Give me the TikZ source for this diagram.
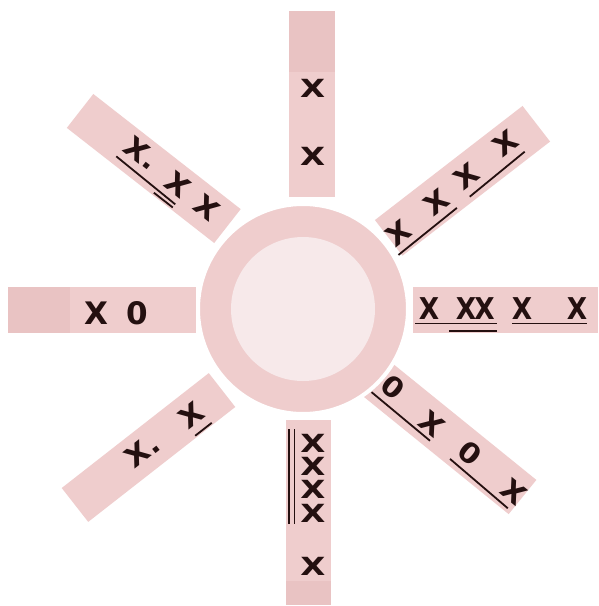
\documentclass[tikz,border=0pt]{standalone}
\usepackage{fontspec}
\newfontfamily\glyphfont{DejaVu Sans}
\definecolor{barpink}{RGB}{239,205,205}
\definecolor{barend}{RGB}{233,195,195}
\definecolor{innerpink}{RGB}{247,233,234}
\definecolor{ink}{RGB}{36,16,16}
\tikzset{
  bar/.style={fill=barpink, draw=none},
  barshade/.style={fill=barend, draw=none},
  glyph/.style={text=ink, inner sep=0pt, transform shape},
  gvert/.style={glyph, font=\glyphfont\bfseries\fontsize{25}{25}\selectfont, xscale=1.3},
  gleft/.style={glyph, font=\glyphfont\bfseries\fontsize{31}{31}\selectfont, xscale=1.0},
  gright/.style={glyph, font=\glyphfont\bfseries\fontsize{30}{30}\selectfont, xscale=0.88},
  gdiag/.style={glyph, font=\glyphfont\bfseries\fontsize{28}{28}\selectfont, xscale=1.08},
  uline/.style={draw=ink, line width=1.8pt},
}
\begin{document}
\begin{tikzpicture}[x=1pt, y=-1pt]
\useasboundingbox (0,0) rectangle (599,606);
\fill[white] (0,0) rectangle (599,606);

% ---- top bar ----
\fill[bar] (289,72) rectangle (335,197);
\fill[barshade] (289,11) rectangle (335,72);
% ---- left bar ----
\fill[bar] (70,287) rectangle (196,333);
\fill[barshade] (8,287) rectangle (70,333);
% ---- right bar ----
\fill[bar] (413,287) rectangle (598,333);
% ---- bottom bar ----
\fill[bar] (286,420) rectangle (331,581);
\fill[barshade] (286,581) rectangle (331,605);

% ---- diagonal bars ----
\begin{scope}[shift={(153.75,168.5)}, rotate=-38]
  \fill[bar] (-93.5,-21.5) rectangle (93.5,21.5);
\end{scope}
\begin{scope}[shift={(462.5,180.8)}, rotate=37.7]
  \fill[bar] (-93.3,-22.5) rectangle (93.3,22.5);
\end{scope}
\begin{scope}[shift={(450,438.3)}, rotate=-39]
  \fill[bar] (-93.3,-22) rectangle (93.3,22);
\end{scope}
\begin{scope}[shift={(148.5,447.5)}, rotate=38]
  \fill[bar] (-93.3,-21.5) rectangle (93.3,21.5);
\end{scope}

% ---- hub ----
\node[circle, fill=barpink, draw=white, line width=4pt, minimum size=210pt, inner sep=0pt] (hub) at (303,309) {};
\node[circle, fill=innerpink, minimum size=144pt, inner sep=0pt] (core) at (hub.center) {};

% ---- top bar text ----
\node[gvert] (t1) at (312.7,88.5) {X};
\node[gvert] (t2) at (312.7,156.5) {X};

% ---- left bar text ----
\node[gleft] (l1) at (96.7,313) {X};
\node[gleft] (l2) at (137.3,313) {0};

% ---- right bar text ----
\node[gright] (r1) at (429,308.5) {X};
\node[gright] (r2) at (466,308.5) {X};
\node[gright] (r3) at (484.5,308.5) {X};
\node[gright] (r4) at (522,308.5) {X};
\node[gright] (r5) at (577,308.5) {X};
\coordinate (ra) at (415,323.5);
\coordinate (rb) at (497,323.5);
\coordinate (rc) at (449,331);
\coordinate (rd) at (497,331);
\coordinate (re) at (512,323.5);
\coordinate (rf) at (587,323.5);
\draw[uline] (ra) -- (rb);
\draw[uline] (rc) -- (rd);
\draw[uline] (re) -- (rf);

% ---- bottom bar text ----
\node[gvert] (b1) at (313,443) {X};
\node[gvert] (b2) at (313,466.3) {X};
\node[gvert] (b3) at (313,489.6) {X};
\node[gvert] (b4) at (313,513) {X};
\node[gvert] (b5) at (313,566) {X};
\coordinate (ba) at (289,429);
\coordinate (bb) at (289,524);
\coordinate (bc) at (294.5,429);
\coordinate (bd) at (294.5,524);
\draw[uline] (ba) -- (bb);
\draw[uline] (bc) -- (bd);

% ---- upper-left bar text ----
\begin{scope}[shift={(153.75,168.5)}, rotate=-38]
  \node[gdiag] (ul1) at (-25,-5) {X\rlap{\kern0.6pt.}};
  \node[gdiag] (ul3) at (29,-2) {X};
  \node[gdiag] (ul4) at (66,-2) {X};
  \coordinate (ula) at (-37,13.5);
  \coordinate (ulb) at (39,15);
  \coordinate (ulc) at (15,19);
  \coordinate (uld) at (39,19);
  \draw[uline] (ula) -- (ulb);
  \draw[uline] (ulc) -- (uld);
\end{scope}

% ---- upper-right bar text ----
\begin{scope}[shift={(462.5,180.8)}, rotate=37.7]
  \node[gdiag] (ur1) at (-83,2) {X};
  \node[gdiag] (ur2) at (-34,1.5) {X};
  \node[gdiag] (ur3) at (6,-0.5) {X};
  \node[gdiag] (ur4) at (57,-3) {X};
  \coordinate (ura) at (-96,19.5);
  \coordinate (urb) at (-21,18);
  \coordinate (urc) at (-4,17);
  \coordinate (urd) at (67,15);
  \draw[uline] (ura) -- (urb);
  \draw[uline] (urc) -- (urd);
\end{scope}

% ---- lower-right bar text ----
\begin{scope}[shift={(450,438.3)}, rotate=-39]
  \node[gdiag] (lr1) at (-76.5,-4) {0};
  \node[gdiag] (lr2) at (-23.5,0) {X};
  \node[gdiag] (lr3) at (25,-1) {0};
  \node[gdiag] (lr4) at (83,1.5) {X};
  \coordinate (lra) at (-90,13.5);
  \coordinate (lrb) at (-14,14.5);
  \coordinate (lrc) at (13,16);
  \coordinate (lrd) at (89,18);
  \draw[uline] (lra) -- (lrb);
  \draw[uline] (lrc) -- (lrd);
\end{scope}

% ---- lower-left bar text ----
\begin{scope}[shift={(148.5,447.5)}, rotate=38]
  \node[gdiag] (ll1) at (-13,-1) {X\rlap{\kern0.6pt.}};
  \node[gdiag] (ll3) at (54,1) {X};
  \coordinate (lla) at (44,19.5);
  \coordinate (llb) at (65,19.5);
  \draw[uline] (lla) -- (llb);
\end{scope}
\end{tikzpicture}
\end{document}
